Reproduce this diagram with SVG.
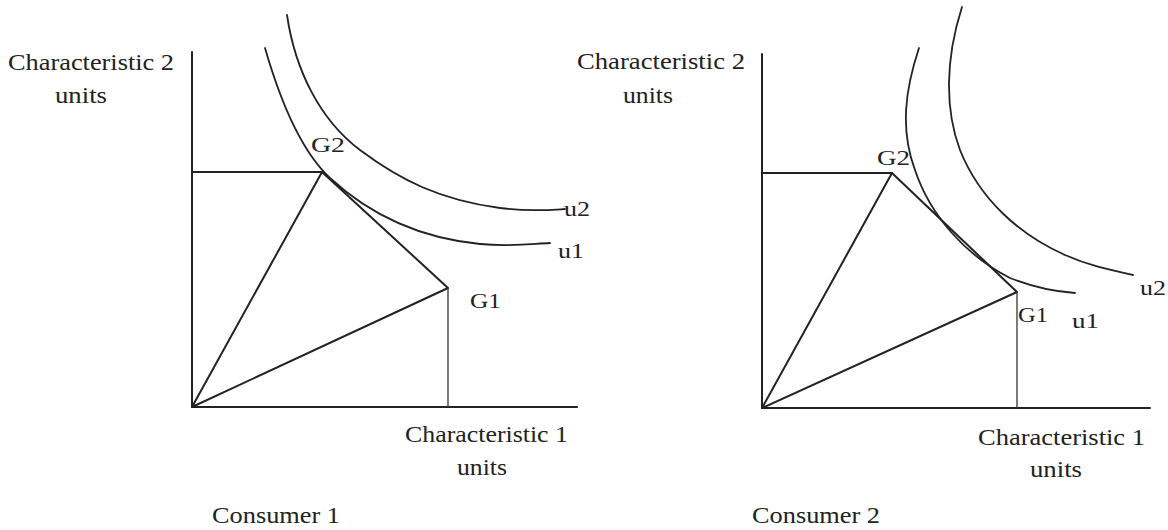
<svg xmlns="http://www.w3.org/2000/svg" width="1168" height="530" viewBox="0 0 1168 530">
<style>
.ln{stroke:#222;stroke-width:2;fill:none;stroke-linejoin:round;stroke-linecap:round}
.thin{stroke:#333;stroke-width:1.3;fill:none}
.crv{stroke:#222;stroke-width:1.8;fill:none;stroke-linecap:round}
text{font-family:"Liberation Serif","Times New Roman",serif;fill:#222}
.lab{font-size:24px}
.pt{font-size:22px}
</style>
<rect width="1168" height="530" fill="#fff"/>
<g id="consumer1">
<g id="axes1">
<polyline class="ln" points="192,52 192,407 577,407"/>
</g>
<g id="connectors1">
<polyline class="ln" points="192,172 322,172 448,288 192,407 322,172"/>
<line class="thin" x1="448" y1="288" x2="448" y2="407"/>
</g>
<g id="u1-left">
<path class="crv" d="M265,48 C280,100 300,150 330,178 C370,215 420,238 480,244 C510,247 530,244 550,243"/>
<text class="pt" x="558" y="258" textLength="26" lengthAdjust="spacingAndGlyphs">u1</text>
</g>
<g id="u2-left">
<path class="crv" d="M287,15 C295,70 320,120 360,150 C400,180 440,200 500,208 C530,212 550,210 565,209"/>
<text class="pt" x="564" y="216" textLength="26" lengthAdjust="spacingAndGlyphs">u2</text>
</g>
<g id="G2-left"><text class="pt" x="311" y="152" textLength="34" lengthAdjust="spacingAndGlyphs">G2</text></g>
<g id="G1-left"><text class="pt" x="470" y="308" textLength="31" lengthAdjust="spacingAndGlyphs">G1</text></g>
<g id="ylab1"><text class="lab" x="8" y="70" textLength="166" lengthAdjust="spacingAndGlyphs">Characteristic 2</text><text class="lab" x="55" y="103" textLength="52" lengthAdjust="spacingAndGlyphs">units</text></g>
<g id="xlab1"><text class="lab" x="405" y="442" textLength="163" lengthAdjust="spacingAndGlyphs">Characteristic 1</text><text class="lab" x="457" y="475" textLength="50" lengthAdjust="spacingAndGlyphs">units</text></g>
<g id="title1"><text class="lab" x="212" y="523" textLength="128" lengthAdjust="spacingAndGlyphs">Consumer 1</text></g>
</g>
<g id="consumer2">
<g id="axes2">
<polyline class="ln" points="762,54 762,408 1150,408"/>
</g>
<g id="connectors2">
<polyline class="ln" points="762,173 892,173 1017,292 762,408 892,173"/>
<line class="thin" x1="1017" y1="292" x2="1017" y2="408"/>
</g>
<g id="u1-right">
<path class="crv" d="M919,48 C905,90 900,130 915,170 C930,215 965,255 1010,278 C1040,290 1060,292 1075,293"/>
<text class="pt" x="1072" y="328" textLength="27" lengthAdjust="spacingAndGlyphs">u1</text>
</g>
<g id="u2-right">
<path class="crv" d="M962,7 C945,60 945,110 960,150 C980,200 1020,235 1065,255 C1090,266 1110,270 1133,275"/>
<text class="pt" x="1140" y="295" textLength="26" lengthAdjust="spacingAndGlyphs">u2</text>
</g>
<g id="G2-right"><text class="pt" x="877" y="165" textLength="33" lengthAdjust="spacingAndGlyphs">G2</text></g>
<g id="G1-right"><text class="pt" x="1018" y="322" textLength="30" lengthAdjust="spacingAndGlyphs">G1</text></g>
<g id="ylab2"><text class="lab" x="577" y="69" textLength="168" lengthAdjust="spacingAndGlyphs">Characteristic 2</text><text class="lab" x="623" y="103" textLength="50" lengthAdjust="spacingAndGlyphs">units</text></g>
<g id="xlab2"><text class="lab" x="978" y="445" textLength="167" lengthAdjust="spacingAndGlyphs">Characteristic 1</text><text class="lab" x="1030" y="477" textLength="52" lengthAdjust="spacingAndGlyphs">units</text></g>
<g id="title2"><text class="lab" x="752" y="523" textLength="128" lengthAdjust="spacingAndGlyphs">Consumer 2</text></g>
</g>
</svg>
